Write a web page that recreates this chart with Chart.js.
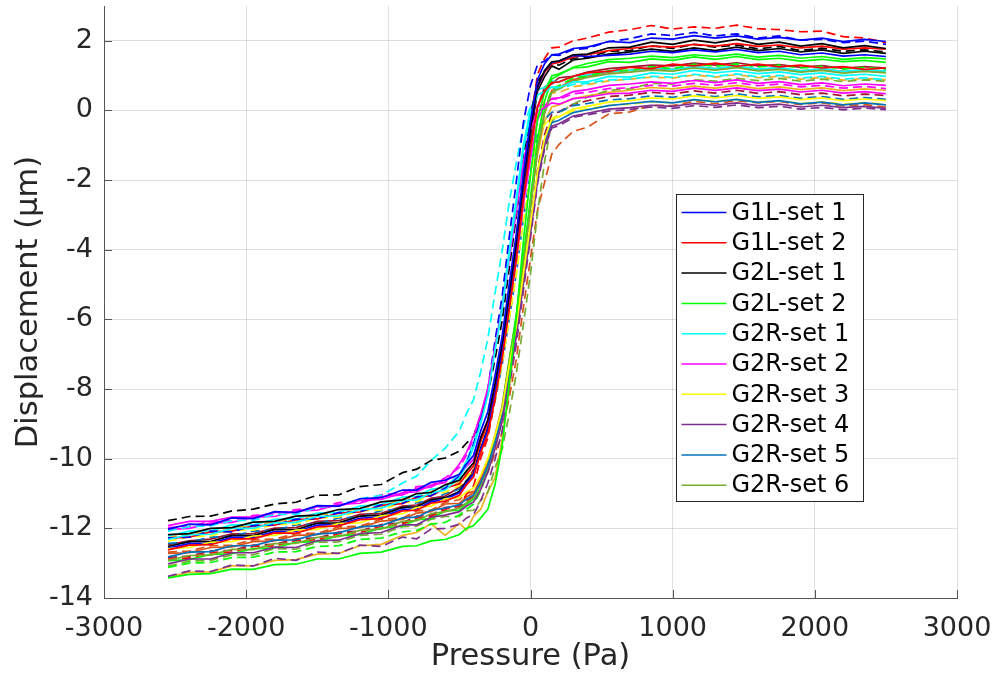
<!DOCTYPE html>
<html>
<head>
<meta charset="utf-8">
<title>Displacement vs pressure</title>
<script src="https://cdn.jsdelivr.net/npm/chart.js@4.4.1/dist/chart.umd.min.js"></script>
<style>
  html, body { margin: 0; padding: 0; background: #ffffff; }
  canvas { display: block; }
</style>
</head>
<body>
<canvas id="chart" width="997" height="678"></canvas>
<script>
// Pressure sweep (Pa) shared by every run
const pressure = [-2550, -2400, -2250, -2100, -1950, -1800, -1650, -1500, -1350, -1200, -1050, -900, -800, -700, -600,
  -500, -450, -400, -350, -300, -250, -200, -150, -100, -50, 0, 50, 100, 150, 200, 300,
  400, 550, 700, 850, 1000, 1150, 1300, 1450, 1600, 1750, 1900, 2050, 2200, 2350, 2500];

// Displacement (um) for each run
const g1lSet1Run1 = [-12.02, -11.88, -11.9, -11.7, -11.72, -11.52, -11.55, -11.35, -11.36, -11.15, -11.12, -10.9, -10.9, -10.68, -10.62,
  -10.45, -10.15, -9.9, -9.2, -8.65, -7.62, -6.5, -5.0, -3.55, -1.8, -0.3, 0.9, 1.35, 1.6, 1.62, 1.78,
  1.82, 1.98, 1.95, 2.08, 2.05, 2.15, 2.08, 2.14, 2.05, 2.1, 2.02, 2.08, 1.98, 2.04, 1.98];
const g1lSet1Run2 = [-12.28, -12.25, -12.08, -12.1, -11.92, -11.9, -11.74, -11.72, -11.55, -11.52, -11.33, -11.28, -11.1, -11.06, -10.85,
  -10.5, -10.12, -9.58, -8.85, -8.0, -6.62, -5.35, -3.65, -2.05, -0.35, 0.72, 1.32, 1.42, 1.6, 1.58, 1.75,
  1.78, 1.98, 2.06, 2.2, 2.15, 2.24, 2.14, 2.2, 2.08, 2.14, 2.02, 2.04, 1.95, 1.99, 1.9];
const g1lSet1Run3 = [-12.57, -12.44, -12.43, -12.26, -12.26, -12.09, -12.09, -11.91, -11.89, -11.71, -11.67, -11.46, -11.44, -11.24, -11.16,
  -10.98, -10.7, -10.44, -9.72, -9.16, -8.12, -6.92, -5.44, -3.92, -2.12, -0.58, 0.68, 1.14, 1.38, 1.42, 1.58,
  1.55, 1.58, 1.62, 1.7, 1.66, 1.74, 1.68, 1.75, 1.66, 1.7, 1.6, 1.65, 1.56, 1.6, 1.55];

const g1lSet2Run1 = [-12.62, -12.48, -12.47, -12.3, -12.3, -12.13, -12.14, -11.96, -11.93, -11.75, -11.72, -11.5, -11.48, -11.28, -11.22,
  -11.05, -10.75, -10.52, -9.82, -9.3, -8.28, -7.15, -5.72, -4.28, -2.55, -1.1, 0.12, 0.55, 0.8, 0.82, 0.98,
  1.08, 1.12, 1.24, 1.2, 1.33, 1.28, 1.36, 1.27, 1.33, 1.25, 1.3, 1.22, 1.26, 1.18, 1.22];
const g1lSet2Run2 = [-12.88, -12.85, -12.7, -12.68, -12.52, -12.5, -12.35, -12.33, -12.15, -12.12, -11.94, -11.88, -11.7, -11.66, -11.45,
  -11.35, -11.02, -10.78, -9.98, -9.4, -8.3, -7.05, -5.45, -3.85, -1.92, -0.3, 1.05, 1.5, 1.8, 1.82, 2.0,
  2.08, 2.25, 2.32, 2.44, 2.34, 2.4, 2.36, 2.45, 2.35, 2.32, 2.26, 2.28, 2.12, 2.08, 1.95];
const g1lSet2Run3 = [-12.28, -12.25, -12.1, -12.08, -11.93, -11.91, -11.75, -11.73, -11.56, -11.53, -11.34, -11.29, -11.1, -11.07, -10.85,
  -10.72, -10.45, -10.2, -9.5, -8.96, -7.94, -6.76, -5.32, -3.84, -2.08, -0.58, 0.66, 1.1, 1.34, 1.38, 1.54,
  1.6, 1.72, 1.78, 1.85, 1.82, 1.9, 1.85, 1.92, 1.84, 1.88, 1.8, 1.85, 1.76, 1.8, 1.76];

const g2lSet1Run1 = [-12.18, -12.15, -12.0, -11.98, -11.82, -11.8, -11.65, -11.62, -11.46, -11.43, -11.24, -11.18, -11.0, -10.97, -10.75,
  -10.62, -10.35, -10.12, -9.4, -8.88, -7.85, -6.7, -5.25, -3.78, -2.0, -0.52, 0.72, 1.15, 1.4, 1.42, 1.6,
  1.62, 1.8, 1.82, 1.96, 1.9, 2.02, 1.94, 2.04, 1.9, 1.96, 1.85, 1.92, 1.8, 1.86, 1.78];
const g2lSet1Run2 = [-11.78, -11.66, -11.65, -11.5, -11.45, -11.3, -11.25, -11.05, -11.04, -10.8, -10.74, -10.4, -10.3, -10.05, -9.98,
  -9.78, -9.55, -9.35, -8.75, -8.15, -7.15, -6.05, -4.55, -3.05, -1.35, -0.15, 0.85, 1.1, 1.35, 1.3, 1.5,
  1.52, 1.7, 1.72, 1.86, 1.78, 1.9, 1.82, 1.88, 1.77, 1.84, 1.72, 1.79, 1.7, 1.74, 1.68];
const g2lSet1Run3 = [-12.52, -12.38, -12.38, -12.2, -12.21, -12.03, -12.04, -11.85, -11.84, -11.65, -11.62, -11.4, -11.38, -11.18, -11.12,
  -10.94, -10.64, -10.42, -9.7, -9.14, -8.12, -6.94, -5.48, -3.98, -2.2, -0.7, 0.56, 0.98, 1.28, 1.18, 1.45,
  1.5, 1.62, 1.68, 1.76, 1.7, 1.8, 1.72, 1.82, 1.72, 1.78, 1.68, 1.74, 1.64, 1.7, 1.64];

const g2lSet2Run1 = [-13.42, -13.32, -13.3, -13.17, -13.18, -13.04, -13.03, -12.88, -12.88, -12.72, -12.68, -12.52, -12.5, -12.36, -12.32,
  -12.18, -12.0, -11.92, -11.7, -11.45, -10.75, -9.65, -7.85, -5.95, -3.75, -1.85, -0.25, 0.55, 1.0, 1.05, 1.22,
  1.25, 1.4, 1.38, 1.48, 1.44, 1.54, 1.47, 1.55, 1.46, 1.5, 1.42, 1.47, 1.4, 1.44, 1.38];
const g2lSet2Run2 = [-13.12, -13.0, -12.98, -12.84, -12.83, -12.68, -12.67, -12.52, -12.5, -12.32, -12.28, -12.1, -12.06, -11.88, -11.83,
  -11.62, -11.45, -11.3, -10.92, -10.36, -9.62, -8.78, -7.4, -6.1, -4.4, -2.78, -1.08, 0.0, 0.62, 0.72, 0.93,
  0.98, 1.14, 1.15, 1.26, 1.2, 1.33, 1.27, 1.34, 1.25, 1.3, 1.22, 1.27, 1.19, 1.24, 1.18];
const g2lSet2Run3 = [-12.93, -12.9, -12.75, -12.73, -12.58, -12.56, -12.4, -12.38, -12.21, -12.18, -11.99, -11.94, -11.75, -11.72, -11.5,
  -11.48, -11.3, -11.16, -10.76, -10.2, -9.46, -8.58, -7.2, -5.88, -4.18, -2.54, -0.8, 0.28, 0.9, 1.02, 1.24,
  1.35, 1.46, 1.5, 1.56, 1.52, 1.6, 1.55, 1.62, 1.53, 1.58, 1.5, 1.55, 1.47, 1.52, 1.48];

const g2rSet1Run1 = [-12.32, -12.18, -12.17, -12.0, -12.0, -11.84, -11.83, -11.66, -11.64, -11.46, -11.42, -11.2, -11.18, -10.98, -10.9,
  -10.55, -10.18, -9.66, -8.98, -8.18, -6.9, -5.74, -4.15, -2.68, -1.12, -0.12, 0.45, 0.52, 0.68, 0.66, 0.82,
  0.82, 0.98, 0.96, 1.08, 1.04, 1.15, 1.08, 1.14, 1.06, 1.11, 1.03, 1.08, 1.0, 1.04, 0.98];
const g2rSet1Run2 = [-12.08, -11.95, -11.93, -11.78, -11.77, -11.6, -11.6, -11.4, -11.36, -11.15, -11.05, -10.7, -10.5, -10.05, -9.7,
  -9.2, -8.7, -8.3, -7.5, -6.55, -5.25, -4.05, -2.65, -1.5, -0.45, 0.1, 0.5, 0.52, 0.64, 0.62, 0.75,
  0.78, 0.88, 0.9, 0.98, 0.95, 1.04, 0.98, 1.05, 0.97, 1.01, 0.93, 0.98, 0.9, 0.94, 0.88];
const g2rSet1Run3 = [-12.22, -12.08, -12.07, -11.9, -11.9, -11.74, -11.73, -11.56, -11.54, -11.36, -11.32, -11.1, -11.08, -10.88, -10.82,
  -10.44, -10.06, -9.56, -8.88, -8.08, -6.8, -5.6, -4.02, -2.54, -0.98, 0.02, 0.6, 0.66, 0.84, 0.82, 0.98,
  1.02, 1.12, 1.15, 1.22, 1.18, 1.26, 1.2, 1.28, 1.19, 1.23, 1.14, 1.2, 1.12, 1.17, 1.13];

const g2rSet2Run1 = [-11.92, -11.8, -11.8, -11.68, -11.68, -11.54, -11.53, -11.38, -11.36, -11.2, -11.17, -10.98, -10.95, -10.76, -10.68,
  -10.15, -9.82, -9.35, -8.72, -7.98, -6.8, -5.7, -4.28, -2.9, -1.48, -0.55, -0.02, 0.08, 0.22, 0.18, 0.34,
  0.38, 0.48, 0.5, 0.58, 0.55, 0.64, 0.58, 0.65, 0.57, 0.61, 0.53, 0.58, 0.5, 0.54, 0.48];
const g2rSet2Run2 = [-11.98, -11.95, -11.8, -11.78, -11.63, -11.6, -11.46, -11.44, -11.26, -11.24, -11.04, -10.98, -10.8, -10.77, -10.55,
  -10.25, -9.9, -9.42, -8.78, -8.02, -6.82, -5.72, -4.25, -2.84, -1.36, -0.42, 0.12, 0.18, 0.34, 0.32, 0.48,
  0.52, 0.63, 0.65, 0.72, 0.7, 0.78, 0.72, 0.8, 0.71, 0.76, 0.68, 0.72, 0.64, 0.69, 0.63];
const g2rSet2Run3 = [-12.03, -12.0, -11.85, -11.83, -11.68, -11.66, -11.5, -11.48, -11.31, -11.28, -11.09, -11.04, -10.85, -10.82, -10.6,
  -10.48, -10.22, -10.02, -9.38, -8.9, -7.96, -6.92, -5.6, -4.28, -2.7, -1.38, -0.26, 0.14, 0.34, 0.36, 0.54,
  0.6, 0.72, 0.76, 0.82, 0.78, 0.86, 0.8, 0.88, 0.78, 0.83, 0.74, 0.79, 0.71, 0.76, 0.72];

const g2rSet3Run1 = [-12.58, -12.55, -12.4, -12.38, -12.22, -12.2, -12.05, -12.03, -11.86, -11.84, -11.64, -11.58, -11.4, -11.36, -11.15,
  -11.12, -10.96, -10.84, -10.48, -10.0, -9.34, -8.58, -7.35, -6.2, -4.7, -3.26, -1.75, -0.8, -0.24, -0.18, 0.04,
  0.12, 0.24, 0.28, 0.36, 0.33, 0.42, 0.36, 0.43, 0.35, 0.39, 0.31, 0.36, 0.28, 0.33, 0.28];
const g2rSet3Run2 = [-12.37, -12.24, -12.22, -12.06, -12.05, -11.89, -11.88, -11.7, -11.68, -11.5, -11.47, -11.26, -11.23, -11.04, -10.96,
  -10.78, -10.52, -10.34, -9.7, -9.22, -8.3, -7.3, -6.0, -4.72, -3.18, -1.9, -0.78, -0.4, -0.2, -0.18, -0.02,
  0.05, 0.15, 0.18, 0.25, 0.22, 0.3, 0.26, 0.32, 0.24, 0.28, 0.2, 0.25, 0.18, 0.23, 0.18];

const g2rSet4Run1 = [-13.02, -12.88, -12.88, -12.7, -12.7, -12.54, -12.55, -12.35, -12.34, -12.15, -12.12, -11.9, -11.9, -11.68, -11.62,
  -11.52, -11.36, -11.24, -10.88, -10.38, -9.72, -8.94, -7.7, -6.5, -4.98, -3.52, -2.0, -1.0, -0.45, -0.38, -0.16,
  -0.08, 0.04, 0.08, 0.15, 0.12, 0.2, 0.15, 0.22, 0.14, 0.18, 0.1, 0.15, 0.08, 0.12, 0.06];
const g2rSet4Run2 = [-13.38, -13.22, -13.24, -13.05, -13.08, -12.86, -12.92, -12.68, -12.72, -12.48, -12.52, -12.25, -12.3, -12.02, -12.0,
  -11.88, -11.7, -11.6, -11.2, -10.7, -10.02, -9.22, -7.94, -6.72, -5.16, -3.66, -2.08, -1.08, -0.5, -0.44, -0.2,
  -0.12, -0.02, 0.03, 0.1, 0.06, 0.14, 0.09, 0.16, 0.08, 0.12, 0.04, 0.09, 0.02, 0.07, 0.02];

const g2rSet5Run1 = [-12.82, -12.68, -12.67, -12.5, -12.5, -12.34, -12.33, -12.16, -12.13, -11.96, -11.92, -11.7, -11.68, -11.48, -11.42,
  -11.32, -11.16, -11.04, -10.68, -10.2, -9.54, -8.76, -7.52, -6.36, -4.84, -3.4, -1.88, -0.9, -0.35, -0.28, -0.06,
  0.02, 0.14, 0.2, 0.26, 0.22, 0.31, 0.25, 0.32, 0.23, 0.28, 0.19, 0.24, 0.16, 0.22, 0.16];
const g2rSet5Run2 = [-12.43, -12.4, -12.25, -12.23, -12.08, -12.06, -11.9, -11.88, -11.7, -11.68, -11.49, -11.44, -11.26, -11.22, -11.0,
  -10.88, -10.62, -10.42, -9.78, -9.3, -8.35, -7.32, -6.0, -4.68, -3.1, -1.78, -0.66, -0.26, -0.05, -0.04, 0.14,
  0.2, 0.3, 0.34, 0.42, 0.38, 0.46, 0.4, 0.48, 0.39, 0.43, 0.35, 0.4, 0.32, 0.37, 0.32];

const g2rSet6Run1 = [-12.92, -12.78, -12.77, -12.6, -12.61, -12.44, -12.43, -12.26, -12.24, -12.06, -12.02, -11.8, -11.78, -11.58, -11.52,
  -11.42, -11.26, -11.12, -10.74, -10.2, -9.48, -8.64, -7.3, -6.04, -4.38, -2.8, -1.12, -0.08, 0.52, 0.62, 0.84,
  0.95, 1.05, 1.1, 1.16, 1.13, 1.22, 1.16, 1.23, 1.14, 1.18, 1.1, 1.15, 1.07, 1.12, 1.08];
const g2rSet6Run2 = [-13.08, -12.94, -12.92, -12.76, -12.76, -12.58, -12.6, -12.4, -12.39, -12.2, -12.17, -11.95, -11.94, -11.74, -11.66,
  -11.66, -11.5, -11.48, -11.2, -10.96, -10.26, -9.74, -8.72, -7.56, -6.14, -4.68, -2.92, -1.45, -0.32, -0.08, 0.18,
  0.38, 0.58, 0.62, 0.78, 0.76, 0.88, 0.84, 0.92, 0.86, 0.92, 0.84, 0.9, 0.83, 0.88, 0.84];

// Further runs drawn without a legend entry
const extraRun1 = [-12.72, -12.7, -12.55, -12.53, -12.38, -12.36, -12.2, -12.18, -12.01, -11.98, -11.79, -11.74, -11.56, -11.52, -11.3,
  -11.28, -11.1, -10.98, -10.58, -10.06, -9.34, -8.5, -7.18, -5.92, -4.28, -2.72, -1.06, -0.02, 0.58, 0.66, 0.88,
  1.0, 1.1, 1.15, 1.2, 1.18, 1.26, 1.2, 1.27, 1.18, 1.22, 1.14, 1.19, 1.12, 1.16, 1.12];
const extraRun2 = [-12.68, -12.65, -12.5, -12.48, -12.33, -12.31, -12.15, -12.14, -11.96, -11.94, -11.74, -11.7, -11.5, -11.48, -11.25,
  -11.18, -11.0, -10.94, -10.65, -10.4, -9.85, -9.25, -8.25, -7.15, -5.65, -4.25, -2.85, -2.05, -1.25, -0.98, -0.6,
  -0.48, -0.1, -0.04, 0.15, 0.14, 0.26, 0.2, 0.28, 0.22, 0.26, 0.17, 0.22, 0.13, 0.17, 0.1];
const extraRun3 = [-13.4, -13.26, -13.25, -13.08, -13.08, -12.92, -12.9, -12.74, -12.72, -12.5, -12.46, -12.2, -12.12, -11.86, -12.2,
  -11.85, -12.05, -11.65, -11.45, -10.95, -10.55, -9.45, -8.05, -6.25, -4.45, -2.55, -1.25, -0.3, 0.1, 0.16, 0.34,
  0.42, 0.52, 0.58, 0.66, 0.62, 0.7, 0.64, 0.72, 0.63, 0.68, 0.6, 0.65, 0.57, 0.62, 0.58];
const extraRun4 = [-12.27, -12.14, -12.12, -11.96, -11.95, -11.79, -11.78, -11.6, -11.58, -11.4, -11.37, -11.16, -11.13, -10.94, -10.86,
  -10.68, -10.42, -10.2, -9.55, -9.04, -8.08, -7.0, -5.66, -4.3, -2.66, -1.28, -0.14, 0.28, 0.5, 0.52, 0.68,
  0.74, 0.85, 0.9, 0.96, 0.93, 1.02, 0.96, 1.03, 0.94, 0.98, 0.9, 0.95, 0.87, 0.92, 0.88];
const extraRun5 = [-12.47, -12.36, -12.31, -12.16, -12.15, -11.99, -11.98, -11.8, -11.78, -11.6, -11.57, -11.36, -11.33, -11.14, -11.07,
  -10.82, -10.68, -10.3, -9.78, -9.08, -8.26, -6.94, -5.7, -4.1, -2.56, -0.94, 0.1, 0.68, 0.76, 0.94, 0.98,
  1.1, 1.2, 1.25, 1.3, 1.28, 1.36, 1.3, 1.37, 1.28, 1.32, 1.24, 1.29, 1.21, 1.26, 1.22];
const extraRun6 = [-12.83, -12.8, -12.65, -12.63, -12.48, -12.46, -12.3, -12.28, -12.11, -12.08, -11.89, -11.84, -11.65, -11.62, -11.4,
  -11.38, -11.2, -11.08, -10.72, -10.22, -9.54, -8.74, -7.46, -6.28, -4.72, -3.24, -1.68, -0.68, -0.1, -0.04, 0.18,
  0.28, 0.4, 0.44, 0.52, 0.48, 0.56, 0.5, 0.58, 0.49, 0.54, 0.45, 0.5, 0.42, 0.47, 0.43];

// Legend names, one per measurement set
const setNames = ['G1L-set 1', 'G1L-set 2', 'G2L-set 1', 'G2L-set 2', 'G2R-set 1',
  'G2R-set 2', 'G2R-set 3', 'G2R-set 4', 'G2R-set 5', 'G2R-set 6'];

// Line colours
const C = {
  blue: '#0000ff', red: '#ff0000', black: '#000000', green: '#00ff00', cyan: '#00ffff',
  magenta: '#ff00ff', yellow: '#ffff00', purple: '#7e2f8e', steel: '#0072bd', olive: '#77ac30',
  orange: '#d95319', gold: '#edb120', wine: '#a2142f'
};
const DASH = [9, 5];

// First run of each set carries the legend entry
const runs = [
  { label: setNames[0], values: g1lSet1Run1, color: C.blue, dashed: false },
  { label: setNames[1], values: g1lSet2Run1, color: C.red, dashed: false },
  { label: setNames[2], values: g2lSet1Run1, color: C.black, dashed: false },
  { label: setNames[3], values: g2lSet2Run1, color: C.green, dashed: false },
  { label: setNames[4], values: g2rSet1Run1, color: C.cyan, dashed: false },
  { label: setNames[5], values: g2rSet2Run1, color: C.magenta, dashed: false },
  { label: setNames[6], values: g2rSet3Run1, color: C.yellow, dashed: false },
  { label: setNames[7], values: g2rSet4Run1, color: C.purple, dashed: false },
  { label: setNames[8], values: g2rSet5Run1, color: C.steel, dashed: false },
  { label: setNames[9], values: g2rSet6Run1, color: C.olive, dashed: false },
  { values: g1lSet1Run2, color: C.blue, dashed: true },
  { values: g1lSet1Run3, color: C.blue, dashed: false },
  { values: g1lSet2Run2, color: C.red, dashed: true },
  { values: g1lSet2Run3, color: C.red, dashed: false },
  { values: g2lSet1Run2, color: C.black, dashed: true },
  { values: g2lSet1Run3, color: C.black, dashed: false },
  { values: g2lSet2Run2, color: C.green, dashed: true },
  { values: g2lSet2Run3, color: C.green, dashed: false },
  { values: g2rSet1Run2, color: C.cyan, dashed: true },
  { values: g2rSet1Run3, color: C.cyan, dashed: false },
  { values: g2rSet2Run2, color: C.magenta, dashed: true },
  { values: g2rSet2Run3, color: C.magenta, dashed: false },
  { values: g2rSet3Run2, color: C.yellow, dashed: true },
  { values: g2rSet4Run2, color: C.purple, dashed: true },
  { values: g2rSet5Run2, color: C.steel, dashed: true },
  { values: g2rSet6Run2, color: C.olive, dashed: true },
  { values: extraRun1, color: C.orange, dashed: false },
  { values: extraRun2, color: C.orange, dashed: true },
  { values: extraRun3, color: C.gold, dashed: false },
  { values: extraRun4, color: C.gold, dashed: true },
  { values: extraRun5, color: C.wine, dashed: false },
  { values: extraRun6, color: C.wine, dashed: true }
];

const datasets = runs.map(r => ({
  label: r.label || '',
  inLegend: !!r.label,
  data: pressure.map((p, i) => ({ x: p, y: r.values[i] })),
  borderColor: r.color,
  borderWidth: 1.7,
  borderDash: r.dashed ? DASH : [],
  pointRadius: 0,
  tension: 0,
  fill: false
}));

const FONT = 'DejaVu Sans';
const TEXT = '#262626';

// Short tick marks pointing into the plot area
const innerTicks = {
  id: 'innerTicks',
  beforeDatasetsDraw(chart) {
    const { ctx, chartArea, scales } = chart;
    ctx.save();
    ctx.strokeStyle = '#555555';
    ctx.lineWidth = 1;
    ctx.beginPath();
    scales.x.ticks.forEach(t => {
      const px = Math.round(scales.x.getPixelForValue(t.value)) + 0.5;
      ctx.moveTo(px, chartArea.bottom);
      ctx.lineTo(px, chartArea.bottom - 8);
    });
    scales.y.ticks.forEach(t => {
      const py = Math.round(scales.y.getPixelForValue(t.value)) + 0.5;
      ctx.moveTo(chartArea.left, py);
      ctx.lineTo(chartArea.left + 8, py);
    });
    ctx.stroke();
    ctx.restore();
  }
};

// Boxed legend inside the plot area
const boxLegend = {
  id: 'boxLegend',
  afterDraw(chart) {
    const { ctx, chartArea } = chart;
    const items = chart.data.datasets.filter(d => d.inLegend);
    const left = chartArea.left + 572.5;
    const top = chartArea.top + 188.5;
    const width = 187;
    const rowH = 30.3;
    const height = 307;
    ctx.save();
    ctx.fillStyle = '#ffffff';
    ctx.fillRect(left, top, width, height);
    ctx.strokeStyle = '#262626';
    ctx.lineWidth = 1;
    ctx.strokeRect(left, top, width, height);
    ctx.font = '24px "' + FONT + '"';
    ctx.textBaseline = 'middle';
    ctx.textAlign = 'left';
    items.forEach((d, i) => {
      const y = top + 18 + i * rowH;
      ctx.strokeStyle = d.borderColor;
      ctx.lineWidth = 1.5;
      ctx.setLineDash([]);
      ctx.beginPath();
      ctx.moveTo(left + 5, y);
      ctx.lineTo(left + 50, y);
      ctx.stroke();
      ctx.fillStyle = '#000000';
      ctx.fillText(d.label, left + 55, y + 1);
    });
    ctx.restore();
  }
};

new Chart(document.getElementById('chart'), {
  type: 'line',
  data: { datasets },
  plugins: [innerTicks, boxLegend],
  options: {
    responsive: false,
    animation: false,
    devicePixelRatio: 1,
    layout: { padding: { top: 6, right: 40, bottom: 0, left: 0 } },
    plugins: {
      legend: { display: false },
      tooltip: { enabled: false }
    },
    scales: {
      x: {
        type: 'linear',
        min: -3000,
        max: 3000,
        ticks: {
          stepSize: 1000,
          maxRotation: 0,
          autoSkip: false,
          padding: 15,
          color: TEXT,
          font: { family: FONT, size: 27 },
          callback: v => String(v)
        },
        grid: { color: 'rgba(38,38,38,0.15)', drawTicks: false, lineWidth: 1 },
        border: { color: '#555555', width: 1 },
        title: {
          display: true,
          text: 'Pressure (Pa)',
          color: TEXT,
          font: { family: FONT, size: 30.5 },
          padding: { top: 0, bottom: 3 }
        },
        afterFit(scale) {
          scale.height = 80;
          scale.paddingLeft = 0;
          scale.paddingRight = 0;
        }
      },
      y: {
        type: 'linear',
        min: -14,
        max: 3,
        ticks: {
          stepSize: 2,
          includeBounds: false,
          autoSkip: false,
          padding: 11,
          color: TEXT,
          font: { family: FONT, size: 27 },
          callback: v => String(v)
        },
        grid: { color: 'rgba(38,38,38,0.15)', drawTicks: false, lineWidth: 1 },
        border: { color: '#555555', width: 1 },
        title: {
          display: true,
          text: 'Displacement (μm)',
          color: TEXT,
          font: { family: FONT, size: 30.5 },
          padding: { top: 11, bottom: 0 }
        },
        afterFit(scale) {
          scale.width = 104;
          scale.paddingTop = 0;
          scale.paddingBottom = 0;
        }
      }
    }
  }
});
</script>
</body>
</html>
